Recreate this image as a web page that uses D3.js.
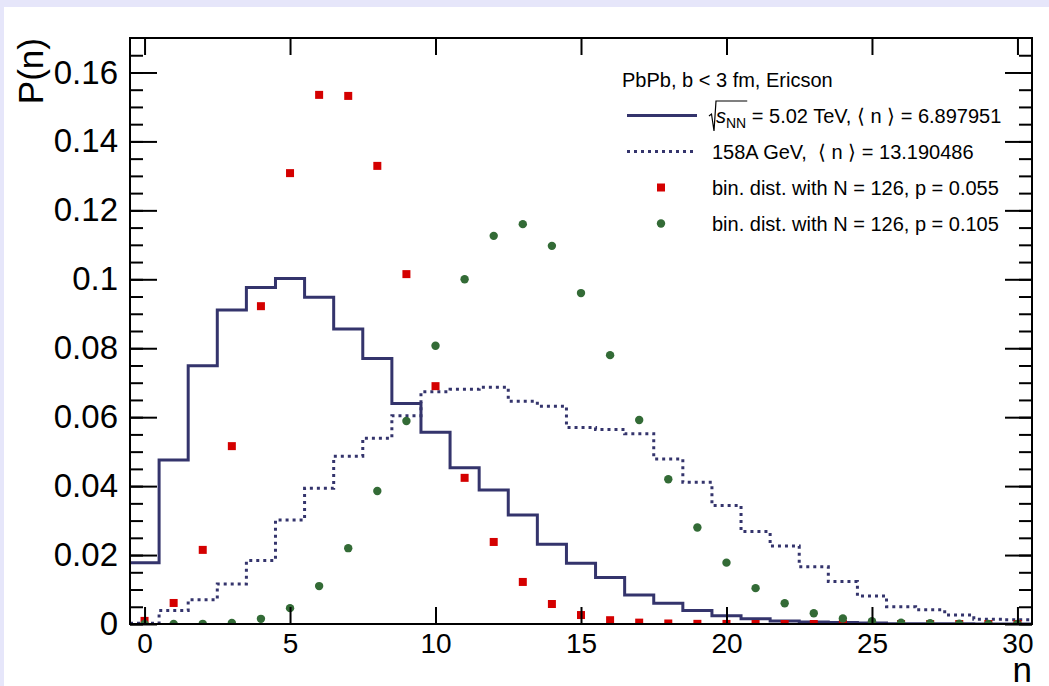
<!DOCTYPE html>
<html>
<head>
<meta charset="utf-8">
<script src="https://cdn.jsdelivr.net/npm/d3@7"></script>
<style>
  html, body { margin: 0; padding: 0; background: #e6e6fa; }
  svg { display: block; }
  text { font-family: "Liberation Sans", Arial, Helvetica, sans-serif; }
</style>
</head>
<body>
<svg id="chart" width="1049" height="686"></svg>
<script>
// bin centres n = 0..30
var nBins = [0, 1, 2, 3, 4, 5, 6, 7, 8, 9, 10, 11, 12, 13, 14, 15, 16, 17, 18, 19, 20,
    21, 22, 23, 24, 25, 26, 27, 28, 29, 30];

// sqrt(sNN) = 5.02 TeV histogram (solid)
var histLHC = [0.0178, 0.0476, 0.0749, 0.0911, 0.0976, 0.1002, 0.0948, 0.0856, 0.0770, 0.0640,
    0.0556, 0.0453, 0.0389, 0.0316, 0.0231, 0.0176, 0.0135, 0.0084, 0.0060, 0.0039,
    0.0024, 0.0015, 0.0009, 0.0006, 0.0004, 0.0003, 0.0001, 0.0001, 0.00005, 0, 0];

// 158A GeV histogram (dotted)
var histSPS = [0.0002, 0.0039, 0.0070, 0.0116, 0.0184, 0.0302, 0.0394, 0.0487, 0.0539, 0.0604,
    0.0674, 0.0681, 0.0687, 0.0646, 0.0632, 0.0570, 0.0564, 0.0552, 0.0479, 0.0411,
    0.0344, 0.0268, 0.0226, 0.0166, 0.0123, 0.0081, 0.0050, 0.0041, 0.0026, 0.0014, 0.0012];

// binomial N = 126, p = 0.055 (red squares)
var binomRed = [0.0009, 0.0061, 0.0215, 0.0516, 0.0922, 0.1308, 0.1535, 0.1532, 0.1329, 0.1015,
    0.0690, 0.0424, 0.0238, 0.0122, 0.0058, 0.0026, 0.0011, 0.0004, 0.00015, 0.00005,
    0.00002, 0, 0, 0, 0, 0, 0, 0, 0, 0, 0];

// binomial N = 126, p = 0.105 (green circles)
var binomGreen = [0, 0, 0.00005, 0.0003, 0.0015, 0.0046, 0.0110, 0.0220, 0.0386, 0.0589,
    0.0807, 0.1000, 0.1126, 0.1160, 0.1097, 0.0960, 0.0780, 0.0592, 0.0420, 0.0280,
    0.0178, 0.0104, 0.0060, 0.0031, 0.0016, 0.0008, 0.0004, 0.0002, 0.0001, 0.00003, 0.00001];

var xTicks = [0, 5, 10, 15, 20, 25, 30];
var yTicks = [0, 0.02, 0.04, 0.06, 0.08, 0.1, 0.12, 0.14, 0.16];
var yMinorTicks = [0, 0.005, 0.01, 0.015, 0.02, 0.025, 0.03, 0.035, 0.04, 0.045, 0.05, 0.055,
    0.06, 0.065, 0.07, 0.075, 0.08, 0.085, 0.09, 0.095, 0.1, 0.105, 0.11, 0.115, 0.12, 0.125,
    0.13, 0.135, 0.14, 0.145, 0.15, 0.155, 0.16, 0.165];

var legendHeader = 'PbPb, b < 3 fm, Ericson';
var legendLabels = ['= 5.02 TeV, \u27E8 n \u27E9 = 6.897951',
    '158A GeV,\u00A0 \u27E8 n \u27E9 = 13.190486',
    'bin. dist. with N = 126, p = 0.055',
    'bin. dist. with N = 126, p = 0.105'];

var navy = '#34346c', red = '#d40000', green = '#336b36';

function draw() {
    var svg = d3.select('#chart');
    var m = {left: 130, right: 1032, top: 38, bottom: 624};

    svg.append('rect')
        .attr('x', 4).attr('y', 7)
        .attr('width', 1049 - 4).attr('height', 686 - 7)
        .attr('fill', '#ffffff');

    var x = d3.scaleLinear().domain([-0.5, 30.5]).range([m.left, m.right]);
    var y = d3.scaleLinear().domain([0, 0.17]).range([m.bottom, m.top]);

    svg.append('defs').append('clipPath').attr('id', 'frame')
        .append('rect')
        .attr('x', m.left).attr('y', m.top)
        .attr('width', m.right - m.left).attr('height', m.bottom - m.top);

    // step path like a ROOT histogram
    function histPath(vals) {
        var p = d3.path();
        vals.forEach(function (v, i) {
            var x0 = x(nBins[i] - 0.5), x1 = x(nBins[i] + 0.5);
            if (i === 0) p.moveTo(x0, y(v)); else p.lineTo(x0, y(v));
            p.lineTo(x1, y(v));
        });
        return p.toString();
    }

    var plot = svg.append('g').attr('clip-path', 'url(#frame)');

    plot.append('path')
        .attr('d', histPath(histSPS))
        .attr('fill', 'none')
        .attr('stroke', navy)
        .attr('stroke-width', 3)
        .attr('stroke-dasharray', '3,4');

    plot.append('path')
        .attr('d', histPath(histLHC))
        .attr('fill', 'none')
        .attr('stroke', navy)
        .attr('stroke-width', 3);

    plot.selectAll('rect.red')
        .data(binomRed)
        .enter().append('rect')
        .attr('class', 'red')
        .attr('x', function (d, i) { return x(nBins[i]) - 4; })
        .attr('y', function (d) { return y(d) - 4; })
        .attr('width', 8).attr('height', 8)
        .attr('fill', red);

    plot.selectAll('circle.green')
        .data(binomGreen)
        .enter().append('circle')
        .attr('class', 'green')
        .attr('cx', function (d, i) { return x(nBins[i]); })
        .attr('cy', function (d) { return y(d); })
        .attr('r', 4.2)
        .attr('fill', green);

    // axes
    function styleAxis(g) {
        g.select('.domain').remove();
        g.selectAll('line').attr('stroke', '#000').attr('stroke-width', 2);
        g.selectAll('text').attr('fill', '#000');
    }

    svg.append('g')
        .attr('transform', 'translate(0,' + m.bottom + ')')
        .call(d3.axisBottom(x).tickValues(xTicks).tickSize(-17).tickSizeOuter(0).tickPadding(9))
        .call(styleAxis)
        .selectAll('text').style('font-size', '28px');

    svg.append('g')
        .attr('transform', 'translate(0,' + m.top + ')')
        .call(d3.axisTop(x).tickValues(xTicks).tickSize(-17).tickSizeOuter(0).tickFormat(''))
        .call(styleAxis);

    svg.append('g')
        .attr('transform', 'translate(' + m.left + ',0)')
        .call(d3.axisLeft(y).tickValues(yMinorTicks).tickSize(-13).tickSizeOuter(0).tickFormat(''))
        .call(styleAxis);

    svg.append('g')
        .attr('transform', 'translate(' + m.left + ',0)')
        .call(d3.axisLeft(y).tickValues(yTicks).tickSize(-27).tickSizeOuter(0).tickPadding(12)
            .tickFormat(d3.format('~g')))
        .call(styleAxis)
        .selectAll('text').style('font-size', '33px');

    svg.append('g')
        .attr('transform', 'translate(' + m.right + ',0)')
        .call(d3.axisRight(y).tickValues(yMinorTicks).tickSize(-13).tickSizeOuter(0).tickFormat(''))
        .call(styleAxis);

    svg.append('g')
        .attr('transform', 'translate(' + m.right + ',0)')
        .call(d3.axisRight(y).tickValues(yTicks).tickSize(-27).tickSizeOuter(0).tickFormat(''))
        .call(styleAxis);

    svg.append('rect')
        .attr('x', m.left).attr('y', m.top)
        .attr('width', m.right - m.left).attr('height', m.bottom - m.top)
        .attr('fill', 'none').attr('stroke', '#000').attr('stroke-width', 2);

    // axis titles
    svg.append('text')
        .attr('transform', 'translate(43,' + m.top + ') rotate(-90)')
        .attr('text-anchor', 'end')
        .style('font-size', '35px')
        .text('P(n)');

    svg.append('text')
        .attr('x', m.right).attr('y', 682)
        .attr('text-anchor', 'end')
        .style('font-size', '35px')
        .text('n');

    // legend
    var leg = svg.append('g').style('font-size', '20px');
    var rowY = [123, 159, 195, 231];

    leg.append('text').attr('x', 622).attr('y', 87).text(legendHeader);

    leg.append('line')
        .attr('x1', 627).attr('x2', 697)
        .attr('y1', rowY[0] - 7.5).attr('y2', rowY[0] - 7.5)
        .attr('stroke', navy).attr('stroke-width', 3);

    leg.append('line')
        .attr('x1', 627).attr('x2', 697)
        .attr('y1', rowY[1] - 7.5).attr('y2', rowY[1] - 7.5)
        .attr('stroke', navy).attr('stroke-width', 3)
        .attr('stroke-dasharray', '3,4');

    leg.append('rect')
        .attr('x', 661 - 4).attr('y', rowY[2] - 7.5 - 4)
        .attr('width', 8).attr('height', 8)
        .attr('fill', red);

    leg.append('circle')
        .attr('cx', 661).attr('cy', rowY[3] - 7.5)
        .attr('r', 4.2).attr('fill', green);

    // row 1: sqrt(s_NN) label
    var t1 = leg.append('text').attr('x', 716).attr('y', rowY[0]);
    t1.append('tspan').style('font-style', 'italic').text('s');
    var nnPart = t1.append('tspan').attr('dy', 5).style('font-size', '14px').text('NN');
    t1.append('tspan').attr('dy', -5).text(' ' + legendLabels[0]);

    var nb = nnPart.node().getBBox();
    var barEnd = nb.x + nb.width + 1;
    leg.append('path')
        .attr('d', 'M709,' + (rowY[0] - 7) + 'L711.5,' + (rowY[0] - 9) + 'L714,' + (rowY[0] + 8) +
            'L716,' + (rowY[0] - 22) + 'H' + barEnd)
        .attr('fill', 'none').attr('stroke', '#000').attr('stroke-width', 1.2);

    leg.append('text').attr('x', 712).attr('y', rowY[1]).text(legendLabels[1]);
    leg.append('text').attr('x', 712).attr('y', rowY[2]).text(legendLabels[2]);
    leg.append('text').attr('x', 712).attr('y', rowY[3]).text(legendLabels[3]);
}

draw();
</script>
</body>
</html>
